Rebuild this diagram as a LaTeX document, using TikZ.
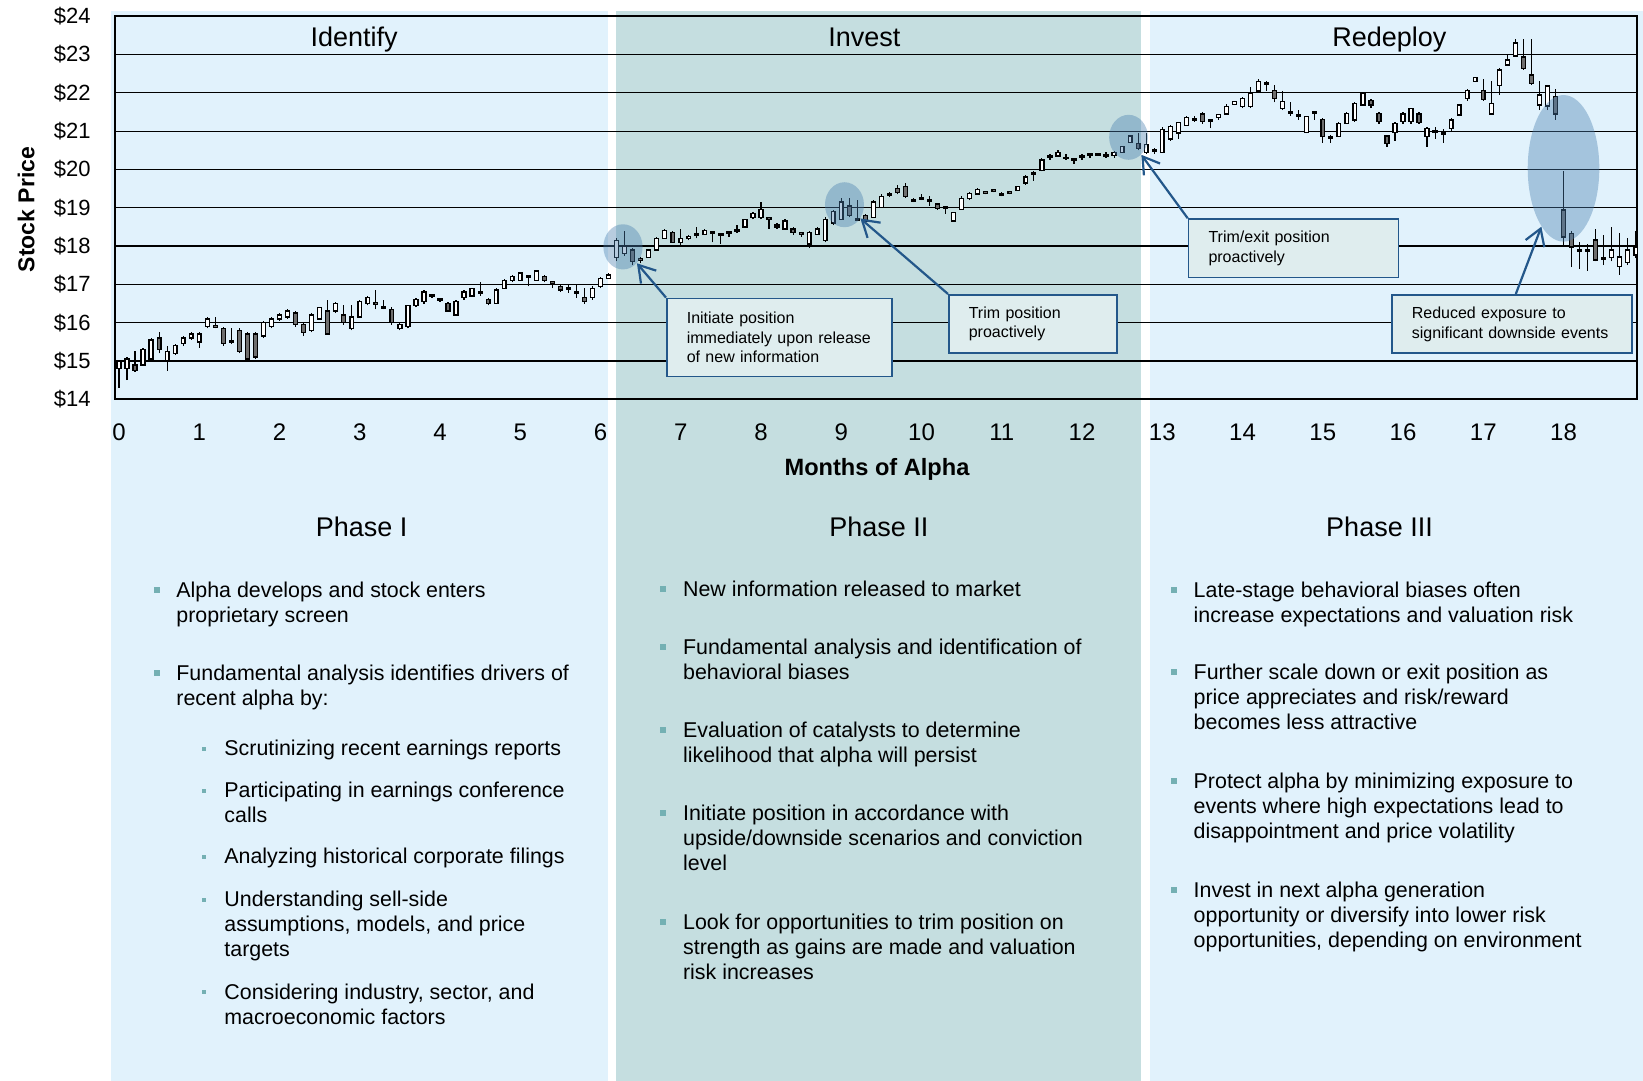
\documentclass[tikz,border=0pt]{standalone}
\usepackage{fontspec}
\setmainfont{Liberation Sans}
\usetikzlibrary{positioning,arrows.meta,shapes.geometric}

\definecolor{paleblue}{HTML}{E1F2FC}
\definecolor{investbg}{HTML}{C5DEE0}
\definecolor{notefill}{HTML}{DFEDEE}
\definecolor{noteline}{HTML}{23578A}
\definecolor{bulletcol}{HTML}{74B0B3}
\definecolor{spotcol}{HTML}{4A7FAF}
\definecolor{downbody}{HTML}{6E6E6E}

\tikzset{
  gridline/.style={line width=0.6pt},
  frameline/.style={line width=1.1pt},
  wick/.style={line width=0.6pt},
  body/.style={draw=black,line width=0.7pt},
  spot/.style={ellipse,fill=spotcol,fill opacity=0.4,draw=none,inner sep=0pt},
  note/.style={rectangle,draw=noteline,line width=0.8pt,fill=notefill,inner xsep=10pt,
    align=left,anchor=north west,font=\fontsize{8}{9.9}\selectfont},
  callarrow/.style={draw=noteline,line width=1.1pt,-{Straight Barb[length=8pt,width=10pt]}},
  pricelab/.style={anchor=east,inner sep=0pt,font=\fontsize{11}{13}\selectfont},
  monthlab/.style={anchor=base,inner sep=0pt,font=\fontsize{12}{14}\selectfont},
  stagehead/.style={anchor=base,inner sep=0pt,font=\fontsize{13.5}{16}\selectfont},
  bullettext/.style={anchor=base west,align=left,inner sep=0pt,font=\fontsize{10.7}{12.5}\selectfont},
  mainmark/.style={rectangle,fill=bulletcol,minimum size=3pt,inner sep=0pt},
  submark/.style={rectangle,fill=bulletcol,minimum size=2pt,inner sep=0pt}
}

\begin{document}
\begin{tikzpicture}[x=0.5pt,y=0.5pt]
\useasboundingbox (0,0) rectangle (1643,1081);

% phase panels
\fill[paleblue] (111,0) rectangle (608,1070);
\fill[investbg] (616,0) rectangle (1141,1070);
\fill[paleblue] (1150,0) rectangle (1643,1070);

% chart: x in months, y in dollars above $14
\begin{scope}[shift={(59.5pt,340.85pt)},x=40.125pt,y=19.15pt]
\foreach \k in {1,...,9}
  \draw[gridline] (-0.05,\k) -- (18.92,\k);
\draw[frameline] (-0.05,0) rectangle (18.92,10);

\foreach \k [evaluate=\k as \pr using int(\k+14)] in {0,...,10}
  \node[pricelab] (price\k) at (-0.349,\k) {\$\pr};
\foreach \m in {0,...,18}
  \node[monthlab] (month\m) at (\m,-1.081) {\m};

\foreach \o/\c/\h/\l [count=\i from 0] in {
  14.8/15.0/15.0/14.3, 14.8/15.05/15.1/14.5, 14.9/14.75/15.25/14.72, 14.9/15.3/15.35/14.9, 15.05/15.55/15.6/15.0, 15.6/15.3/15.75/15.2, 15.0/15.25/15.4/14.75, 15.2/15.4/15.45/15.15, 15.45/15.6/15.65/15.4, 15.6/15.7/15.75/15.55,
  15.5/15.7/15.75/15.35, 15.9/16.1/16.15/15.85, 15.92/15.88/16.15/15.85, 15.85/15.45/15.9/15.4, 15.52/15.48/15.85/15.45, 15.8/15.25/15.85/15.2, 15.7/15.05/15.75/15.0, 15.7/15.1/15.75/15.05, 15.65/16.0/16.05/15.6, 15.9/16.1/16.15/15.85,
  16.1/16.2/16.25/16.05, 16.15/16.3/16.35/16.1, 16.25/15.95/16.3/15.9, 15.95/15.75/16.0/15.65, 15.8/16.2/16.25/15.75, 16.1/16.4/16.4/16.1, 16.3/15.7/16.6/15.7, 16.3/16.5/16.55/16.25, 16.2/16.0/16.45/15.95, 15.85/16.15/16.45/15.8,
  16.15/16.55/16.6/16.15, 16.5/16.65/16.7/16.45, 16.52/16.48/16.85/16.35, 16.42/16.38/16.6/16.35, 16.35/16.0/16.4/15.95, 15.85/15.95/16.0/15.8, 15.9/16.45/16.45/15.85, 16.45/16.6/16.65/16.4, 16.55/16.8/16.85/16.5, 16.72/16.68/16.75/16.65,
  16.62/16.58/16.65/16.55, 16.5/16.3/16.55/16.3, 16.2/16.55/16.6/16.2, 16.65/16.8/16.85/16.6, 16.7/16.9/16.9/16.7, 16.82/16.78/17.05/16.7, 16.6/16.5/16.65/16.45, 16.5/16.85/16.9/16.5, 16.9/17.1/17.15/16.9, 17.1/17.2/17.25/17.05,
  17.1/17.3/17.3/17.1, 17.22/17.18/17.22/16.95, 17.1/17.35/17.35/17.1, 17.2/17.1/17.25/17.05, 17.07/17.03/17.07/16.9, 16.95/16.85/16.98/16.8, 16.92/16.88/17.0/16.78, 16.82/16.78/17.0/16.65, 16.65/16.55/16.9/16.5, 16.65/16.9/16.95/16.6,
  16.95/17.15/17.2/16.9, 17.15/17.25/17.3/17.15, 17.7/18.15/18.2/17.6, 17.8/18.0/18.4/17.75, 17.9/17.6/17.95/17.5, 17.67/17.63/17.72/17.55, 17.7/17.9/17.9/17.7, 17.9/18.2/18.25/17.9, 18.2/18.4/18.45/18.2, 18.35/18.1/18.4/18.1,
  18.1/18.2/18.45/18.0, 18.2/18.25/18.3/18.15, 18.32/18.28/18.5/18.2, 18.3/18.4/18.45/18.3, 18.37/18.33/18.4/18.1, 18.32/18.28/18.35/18.05, 18.37/18.33/18.4/18.25, 18.42/18.38/18.55/18.35, 18.5/18.7/18.72/18.5, 18.75/18.85/18.9/18.7,
  18.75/18.95/19.15/18.7, 18.75/18.7/18.75/18.45, 18.55/18.5/18.6/18.45, 18.45/18.65/18.7/18.45, 18.45/18.35/18.5/18.3, 18.35/18.3/18.38/18.25, 18.05/18.35/18.4/17.95, 18.3/18.45/18.5/18.3, 18.15/18.7/18.75/18.1, 18.6/18.9/18.95/18.55,
  18.7/19.15/19.25/18.7, 19.05/18.8/19.25/18.75, 18.72/18.68/19.2/18.65, 18.8/18.65/18.85/18.6, 18.75/19.15/19.2/18.75, 19.0/19.3/19.35/19.0, 19.37/19.33/19.4/19.28, 19.5/19.4/19.6/19.35, 19.55/19.3/19.65/19.25, 19.22/19.18/19.25/19.15,
  19.27/19.23/19.35/19.2, 19.22/19.18/19.3/19.05, 19.1/18.98/19.12/18.95, 19.02/18.98/19.05/18.85, 18.66/18.87/18.9/18.66, 18.96/19.25/19.3/18.95, 19.25/19.38/19.4/19.2, 19.36/19.48/19.52/19.35, 19.42/19.38/19.45/19.35, 19.47/19.43/19.5/19.4,
  19.37/19.33/19.4/19.3, 19.42/19.38/19.45/19.35, 19.45/19.55/19.55/19.45, 19.65/19.8/19.85/19.6, 19.92/19.88/19.95/19.7, 19.97/20.25/20.3/19.95, 20.35/20.31/20.4/20.25, 20.35/20.45/20.5/20.35, 20.32/20.28/20.4/20.25, 20.27/20.23/20.3/20.15,
  20.35/20.31/20.4/20.25, 20.4/20.36/20.42/20.3, 20.42/20.38/20.42/20.38, 20.39/20.35/20.45/20.3, 20.37/20.45/20.48/20.3, 20.45/20.6/20.62/20.45, 20.7/20.87/20.9/20.7, 20.68/20.55/20.95/20.5, 20.45/20.65/20.95/20.4, 20.52/20.48/20.55/20.4,
  20.45/21.05/21.1/20.45, 20.8/21.13/21.15/20.75, 20.95/21.22/21.25/20.8, 21.15/21.35/21.4/21.15, 21.32/21.28/21.4/21.25, 21.45/21.25/21.5/21.2, 21.29/21.25/21.3/21.08, 21.35/21.43/21.45/21.3, 21.45/21.65/21.7/21.45, 21.7/21.77/21.8/21.68,
  21.65/21.86/21.9/21.6, 21.65/22.0/22.15/21.6, 22.05/22.3/22.35/22.0, 22.27/22.23/22.3/22.05, 22.07/21.85/22.2/21.75, 21.6/21.77/22.05/21.55, 21.52/21.48/21.75/21.4, 21.42/21.38/21.55/21.3, 20.96/21.38/21.4/20.95, 21.5/21.46/21.52/21.3,
  21.31/20.86/21.35/20.7, 20.86/20.82/20.9/20.7, 20.86/21.2/21.25/20.85, 21.2/21.46/21.5/21.2, 21.29/21.72/21.75/21.25, 21.68/21.99/22.0/21.68, 21.8/21.68/21.85/21.6, 21.46/21.25/21.5/21.2, 20.87/20.68/20.9/20.6, 20.96/21.2/21.25/20.75,
  21.25/21.45/21.5/21.2, 21.25/21.6/21.6/21.2, 21.45/21.22/21.5/21.2, 20.86/21.07/21.1/20.6, 21.01/20.97/21.1/20.8, 20.95/20.91/21.05/20.7, 21.07/21.29/21.35/21.0, 21.42/21.68/21.7/21.4, 21.86/22.06/22.1/21.8, 22.29/22.4/22.42/22.28,
  22.07/21.83/22.35/21.8, 21.45/21.72/22.3/21.45, 22.2/22.6/22.65/21.95, 22.73/22.86/23.0/22.7, 22.96/23.3/23.4/22.96, 22.94/22.64/23.4/22.6, 22.47/22.25/23.4/22.2, 21.68/21.95/22.3/21.55, 21.66/22.18/22.2/21.55, 21.9/21.45/22.1/21.3,
  18.94/18.24/19.97/17.98, 18.33/17.98/18.4/17.45, 17.9/17.86/18.1/17.4, 17.9/17.86/18.05/17.35, 18.16/17.64/18.45/17.6, 17.7/17.66/18.3/17.5, 17.7/17.9/18.5/17.6, 17.46/17.72/18.35/17.25, 17.57/17.9/18.2/17.5, 17.77/17.98/18.4/17.7}
{
  \draw[wick] (\i/10,\l-14) -- (\i/10,\h-14);
  \ifdim\o pt>\c pt \def\bodycol{downbody}\else\def\bodycol{white}\fi
  \filldraw[body,fill=\bodycol] (\i/10-0.024,\o-14) rectangle (\i/10+0.024,\c-14);
}

\node[spot,minimum width=19.6pt,minimum height=22.6pt] (spot1) at (6.28,3.98) {};
\node[spot,minimum width=19.5pt,minimum height=22.5pt] (spot2) at (9.04,5.08) {};
\node[spot,minimum width=19.4pt,minimum height=22.5pt] (spot3) at (12.58,6.84) {};
\node[spot,minimum width=35.8pt,minimum height=73.3pt] (spot4) at (18.0,6.03) {};
\end{scope}

\node[rotate=90,inner sep=0pt,font=\bfseries\fontsize{11.5}{13}\selectfont] (ylabel) at (26.2,871.4) {Stock Price};
\node[anchor=base,inner sep=0pt,font=\bfseries\fontsize{11.8}{14}\selectfont] (xlabel) at (877,605.5) {Months of Alpha};

\node[stagehead] (identify) at (354.2,1034.5) {Identify};
\node[stagehead] (invest) at (864.4,1034.5) {Invest};
\node[stagehead] (redeploy) at (1389.3,1034.5) {Redeploy};

% callouts
\node[note,text width=92.5pt,minimum height=39pt] (note1) at (666,783.4) {Initiate position\\immediately upon release\\of new information};
\node[note,text width=64pt,minimum height=29pt] (note2) at (948,787) {Trim position\\proactively};
\node[note,text width=85pt,minimum height=29.2pt] (note3) at (1187.7,862.7) {Trim/exit position\\proactively};
\node[note,text width=100pt,minimum height=29.2pt] (note4) at (1391,787) {Reduced exposure to\\significant downside events};

\draw[callarrow] (note1.north west) -- (spot1);
\draw[callarrow] (note2.north west) -- (spot2);
\draw[callarrow] (note3.north west) -- (spot3);
\draw[callarrow] ([xshift=2pt]note4.north) -- (spot4);

% phase texts (placed by the baseline of their last line)
\node[stagehead] (phase1) at (361.7,544) {Phase I};
\node[stagehead] (phase2) at (878.8,544) {Phase II};
\node[stagehead] (phase3) at (1379.5,544) {Phase III};

\node[bullettext] (a1) at (176,458.8) {Alpha develops and stock enters\\proprietary screen};
\node[bullettext] (a2) at (176,375.4) {Fundamental analysis identifies drivers of\\recent alpha by:};
\node[bullettext] (a3) at (224,325.5) {Scrutinizing recent earnings reports};
\node[bullettext] (a4) at (224,258.3) {Participating in earnings conference\\calls};
\node[bullettext] (a5) at (224,217) {Analyzing historical corporate filings};
\node[bullettext] (a6) at (224,124.7) {Understanding sell-side\\assumptions, models, and price\\targets};
\node[bullettext] (a7) at (224,56.9) {Considering industry, sector, and\\macroeconomic factors};
\node[mainmark] (ma1) at ([xshift=-9.7pt,yshift=16.3pt]a1.base west) {};
\node[mainmark] (ma2) at ([xshift=-9.7pt,yshift=16.3pt]a2.base west) {};
\node[submark] (ma3) at ([xshift=-10pt,yshift=3.3pt]a3.base west) {};
\node[submark] (ma4) at ([xshift=-10pt,yshift=15.8pt]a4.base west) {};
\node[submark] (ma5) at ([xshift=-10pt,yshift=3.3pt]a5.base west) {};
\node[submark] (ma6) at ([xshift=-10pt,yshift=28.3pt]a6.base west) {};
\node[submark] (ma7) at ([xshift=-10pt,yshift=15.8pt]a7.base west) {};

\node[bullettext] (b1) at (682.7,484.3) {New information released to market};
\node[bullettext] (b2) at (682.7,401) {Fundamental analysis and identification of\\behavioral biases};
\node[bullettext] (b3) at (682.7,318.3) {Evaluation of catalysts to determine\\likelihood that alpha will persist};
\node[bullettext] (b4) at (682.7,210) {Initiate position in accordance with\\upside/downside scenarios and conviction\\level};
\node[bullettext] (b5) at (682.7,101) {Look for opportunities to trim position on\\strength as gains are made and valuation\\risk increases};
\foreach \n/\up in {1/3.8,2/16.3,3/16.3,4/28.8,5/28.8}
  \node[mainmark] (mb\n) at ([xshift=-9.7pt,yshift=\up pt]b\n.base west) {};

\node[bullettext] (c1) at (1193.3,458.7) {Late-stage behavioral biases often\\increase expectations and valuation risk};
\node[bullettext] (c2) at (1193.3,351) {Further scale down or exit position as\\price appreciates and risk/reward\\becomes less attractive};
\node[bullettext] (c3) at (1193.3,242.7) {Protect alpha by minimizing exposure to\\events where high expectations lead to\\disappointment and price volatility};
\node[bullettext] (c4) at (1193.3,133.7) {Invest in next alpha generation\\opportunity or diversify into lower risk\\opportunities, depending on environment};
\foreach \n/\up in {1/16.3,2/28.8,3/28.8,4/28.8}
  \node[mainmark] (mc\n) at ([xshift=-9.5pt,yshift=\up pt]c\n.base west) {};

\end{tikzpicture}
\end{document}
